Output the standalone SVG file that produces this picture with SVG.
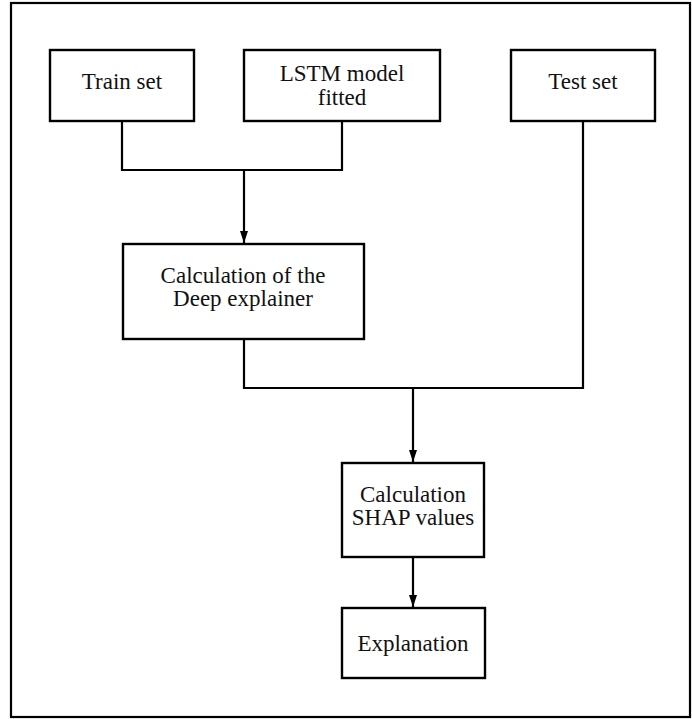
<svg xmlns="http://www.w3.org/2000/svg" width="692" height="719" viewBox="0 0 692 719">
<style>
.box{fill:#fff;stroke:#000;stroke-width:2.4}
.t{font-family:"Liberation Serif","DejaVu Serif",serif;font-size:23px;text-anchor:middle;fill:#111}
.c{fill:none;stroke:#000;stroke-width:2.2}
</style>
<defs>
<marker id="arr" markerWidth="12" markerHeight="10" refX="12" refY="5" orient="auto" markerUnits="userSpaceOnUse" viewBox="0 0 12 10">
<path d="M0,1 L12,5 L0,9 Z" fill="#000"/>
</marker>
</defs>
<rect x="11" y="3" width="679" height="714" fill="#fff" stroke="#000" stroke-width="2.2"/>
<g id="connectors">
<path class="c" d="M122,121 V170 H342 V121"/>
<path class="c" d="M244,170 V243" marker-end="url(#arr)"/>
<path class="c" d="M244,339 V388 H583 V121"/>
<path class="c" d="M413,388 V462" marker-end="url(#arr)"/>
<path class="c" d="M413,557 V607" marker-end="url(#arr)"/>
</g>
<g id="train">
<rect class="box" x="50" y="50" width="144" height="71"/>
<text class="t" x="122" y="89">Train set</text>
</g>
<g id="lstm">
<rect class="box" x="244" y="50" width="196" height="71"/>
<text class="t" x="342" y="81">LSTM model</text>
<text class="t" x="342" y="105">fitted</text>
</g>
<g id="test">
<rect class="box" x="511" y="50" width="144" height="71"/>
<text class="t" x="583" y="89">Test set</text>
</g>
<g id="deep">
<rect class="box" x="123" y="244" width="241" height="95"/>
<text class="t" x="243" y="283">Calculation of the</text>
<text class="t" x="243" y="306">Deep explainer</text>
</g>
<g id="shap">
<rect class="box" x="342" y="463" width="142" height="94"/>
<text class="t" x="413" y="502">Calculation</text>
<text class="t" x="413" y="525">SHAP values</text>
</g>
<g id="explanation">
<rect class="box" x="342" y="608" width="143" height="70"/>
<text class="t" x="413" y="651">Explanation</text>
</g>
</svg>
